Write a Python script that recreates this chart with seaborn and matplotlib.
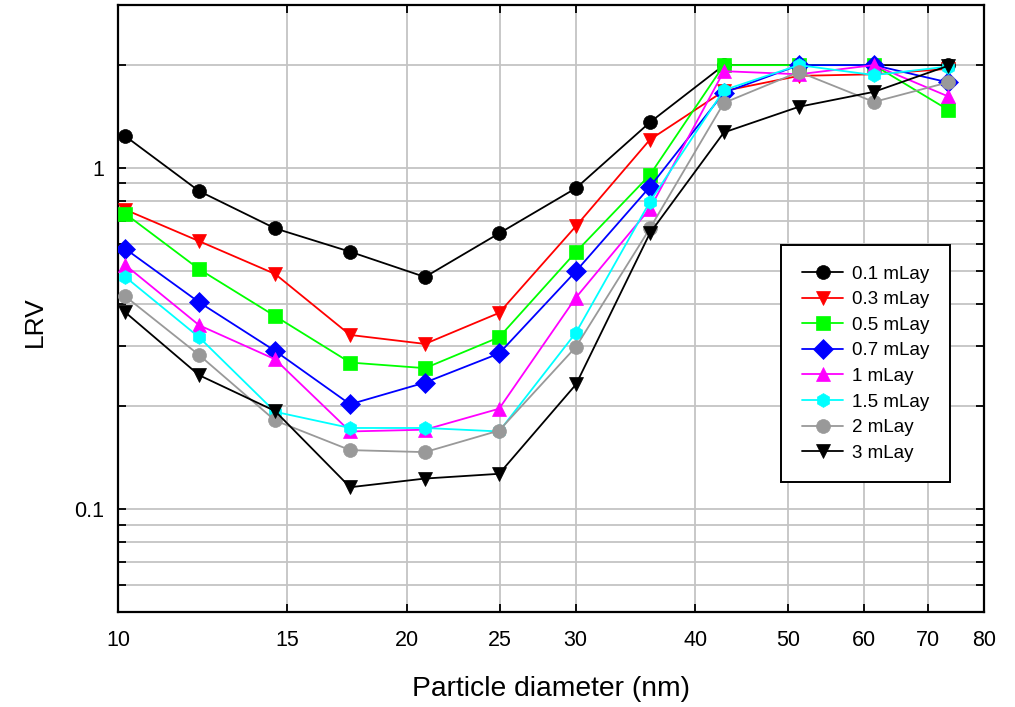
import matplotlib
matplotlib.use("Agg")
import matplotlib.pyplot as plt
from matplotlib.ticker import FixedLocator, FixedFormatter, NullLocator, NullFormatter, LogLocator
import numpy as np
import pandas as pd
import seaborn as sns

# ---- data ----
diameter = [10.17, 12.15, 14.58, 17.46, 20.90, 24.97, 30.03, 35.87, 42.84, 51.30, 61.42, 73.38]

series_names = ["0.1 mLay", "0.3 mLay", "0.5 mLay", "0.7 mLay", "1 mLay", "1.5 mLay", "2 mLay", "3 mLay"]
lrv_01 = [1.24, 0.855, 0.665, 0.568, 0.479, 0.643, 0.872, 1.36, 2.0, 2.0, 2.0, 2.0]
lrv_03 = [0.755, 0.61, 0.489, 0.324, 0.305, 0.376, 0.675, 1.21, 1.68, 1.86, 1.88, 1.95]
lrv_05 = [0.735, 0.505, 0.368, 0.269, 0.259, 0.319, 0.567, 0.954, 2.0, 2.0, 2.0, 1.48]
lrv_07 = [0.58, 0.404, 0.291, 0.203, 0.235, 0.286, 0.498, 0.88, 1.66, 2.0, 2.0, 1.78]
lrv_1 = [0.52, 0.346, 0.275, 0.169, 0.171, 0.197, 0.417, 0.76, 1.92, 1.88, 2.0, 1.62]
lrv_15 = [0.48, 0.319, 0.193, 0.173, 0.173, 0.169, 0.329, 0.796, 1.69, 2.0, 1.87, 1.98]
lrv_2 = [0.421, 0.283, 0.182, 0.149, 0.147, 0.170, 0.299, 0.665, 1.55, 1.91, 1.56, 1.78]
lrv_3 = [0.378, 0.247, 0.194, 0.116, 0.123, 0.127, 0.232, 0.644, 1.27, 1.51, 1.67, 1.99]
all_series = [lrv_01, lrv_03, lrv_05, lrv_07, lrv_1, lrv_15, lrv_2, lrv_3]

x_ticks = [10, 15, 20, 25, 30, 40, 50, 60, 70, 80]
x_tick_labels = ["10", "15", "20", "25", "30", "40", "50", "60", "70", "80"]
y_ticks = [0.1, 1]
y_tick_labels = ["0.1", "1"]

colors = ["#000000", "#ff0000", "#00ff00", "#0000ff", "#ff00ff", "#00ffff", "#999999", "#000000"]
markers = ["o", "v", "s", "D", "^", "h", "o", "v"]

# ---- styling ----
sns.set_theme(style="white")
plt.rcParams["font.family"] = ["Liberation Sans", "DejaVu Sans"]
plt.rcParams["text.color"] = "#000000"
plt.rcParams["axes.labelcolor"] = "#000000"
plt.rcParams["xtick.color"] = "#000000"
plt.rcParams["ytick.color"] = "#000000"

fig = plt.figure(figsize=(10.15, 7.07), dpi=100)
fig.subplots_adjust(left=118 / 1015, right=984 / 1015, top=1 - 5 / 707, bottom=1 - 612 / 707)
ax = fig.add_subplot(111)

df = pd.DataFrame({
    "diameter": np.tile(diameter, len(series_names)),
    "LRV": np.concatenate(all_series),
    "series": np.repeat(series_names, len(diameter)),
})

for name, col, mk in zip(series_names, colors, markers):
    sub = df[df["series"] == name]
    sns.lineplot(data=sub, x="diameter", y="LRV", ax=ax, color=col, marker=mk,
                 markersize=10, markeredgecolor=col, markeredgewidth=0.5,
                 linewidth=1.3, label=name, sort=False, zorder=3)

ax.set_xscale("log")
ax.set_yscale("log")
ax.set_xlim(10, 80)
ax.set_ylim(0.05, 3)

ax.xaxis.set_major_locator(FixedLocator(x_ticks))
ax.xaxis.set_major_formatter(FixedFormatter(x_tick_labels))
ax.xaxis.set_minor_locator(NullLocator())
ax.yaxis.set_major_locator(FixedLocator(y_ticks))
ax.yaxis.set_major_formatter(FixedFormatter(y_tick_labels))
ax.yaxis.set_minor_locator(LogLocator(base=10, subs=np.arange(2, 10), numticks=20))
ax.yaxis.set_minor_formatter(NullFormatter())

ax.set_axisbelow(True)
ax.grid(True, which="major", axis="x", color="#c4c4c4", linewidth=1.3)
ax.grid(True, which="both", axis="y", color="#c4c4c4", linewidth=1.3)

ax.tick_params(which="both", direction="in", top=True, right=True, left=True, bottom=True,
               length=6, width=1.3, color="#000000")
ax.tick_params(axis="x", which="major", labelsize=15.5, pad=13, labelcolor="#000000")
ax.tick_params(axis="y", which="major", labelsize=15.5, pad=10, labelcolor="#000000")

for sp in ax.spines.values():
    sp.set_color("#000000")
    sp.set_linewidth(1.6)

ax.set_xlabel("Particle diameter (nm)", fontsize=20.3, labelpad=18, color="#000000")
ax.set_ylabel("LRV", fontsize=19, color="#000000")
ax.yaxis.set_label_coords(-0.082, 0.478)

leg = ax.legend(loc="upper left", bbox_to_anchor=(0.766, 0.6046), borderaxespad=0,
                fontsize=13.5, frameon=True, fancybox=False, edgecolor="#000000",
                handlelength=2.2, handletextpad=0.45, borderpad=1.1, labelspacing=0.45,
                framealpha=1)
leg.get_frame().set_linewidth(1.4)
for t in leg.get_texts():
    t.set_color("#000000")

fig.savefig("out.png", dpi=100)
